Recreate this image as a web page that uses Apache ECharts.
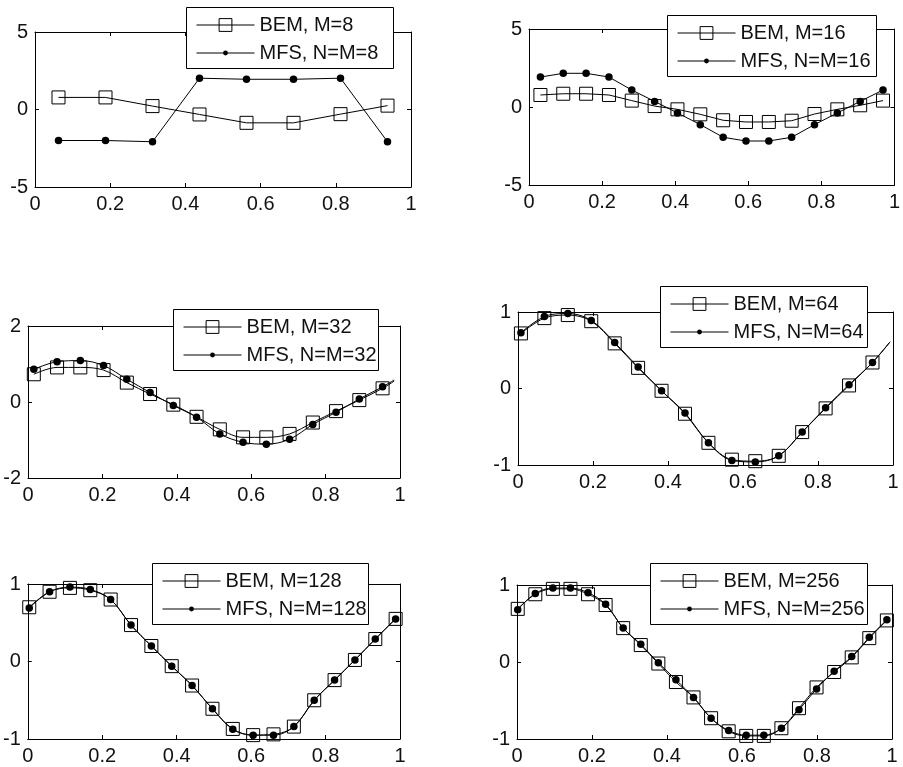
<!DOCTYPE html>
<html><head><meta charset="utf-8">
<script src="https://cdn.jsdelivr.net/npm/echarts@6/dist/echarts.min.js"></script>
<style>html,body{margin:0;padding:0;background:#fff}#c{width:903px;height:767px}</style>
</head><body><div id="c"></div>
<script>
// ---------- data ----------
const xTicks = [0, 0.2, 0.4, 0.6, 0.8, 1];

const p1Ticks = [-5, 0, 5];
const p1X   = [0.0625, 0.1875, 0.3125, 0.4375, 0.5625, 0.6875, 0.8125, 0.9375];
const p1Bem = [0.78, 0.78, 0.22, -0.32, -0.86, -0.86, -0.30, 0.25];
const p1Mfs = [-2.0, -2.0, -2.08, 2.02, 1.95, 1.95, 2.02, -2.08];

const p2Ticks = [-5, 0, 5];
const p2X   = [0.03125, 0.09375, 0.15625, 0.21875, 0.28125, 0.34375, 0.40625, 0.46875,
               0.53125, 0.59375, 0.65625, 0.71875, 0.78125, 0.84375, 0.90625, 0.96875];
const p2Bem = [0.77, 0.85, 0.85, 0.77, 0.41, 0.06, -0.15, -0.47, -0.85, -0.96, -0.96, -0.88, -0.45, -0.15, 0.11, 0.41];
const p2Mfs = [1.92, 2.16, 2.16, 1.92, 1.09, 0.36, -0.38, -1.13, -1.94, -2.18, -2.18, -1.94, -1.13, -0.38, 0.36, 1.09];

const p3Ticks = [-2, 0, 2];
const p3X   = [0.015625, 0.078125, 0.140625, 0.203125, 0.265625, 0.328125, 0.390625, 0.453125,
               0.515625, 0.578125, 0.640625, 0.703125, 0.765625, 0.828125, 0.890625, 0.953125];
const p3Bem = [0.73, 0.91, 0.91, 0.84, 0.51, 0.21, -0.07, -0.39, -0.72, -0.93, -0.93, -0.84, -0.54, -0.24, 0.05, 0.36];
const p3Mfs = [0.86, 1.06, 1.09, 0.96, 0.60, 0.25, -0.09, -0.40, -0.84, -1.06, -1.11, -0.98, -0.59, -0.27, 0.08, 0.40];
const p3TailX = 0.984375, p3BemTail = 0.55, p3MfsTail = 0.58;

const p4Ticks = [-1, 0, 1];
const p4X   = [0.0078125, 0.0703125, 0.1328125, 0.1953125, 0.2578125, 0.3203125, 0.3828125, 0.4453125,
               0.5078125, 0.5703125, 0.6328125, 0.6953125, 0.7578125, 0.8203125, 0.8828125, 0.9453125];
const p4Bem = [0.72, 0.92, 0.96, 0.88, 0.59, 0.27, -0.03, -0.33, -0.71, -0.93, -0.95, -0.88, -0.57, -0.26, 0.04, 0.34];
const p4Mfs = [0.73, 0.94, 0.98, 0.89, 0.60, 0.28, -0.03, -0.32, -0.71, -0.94, -0.96, -0.88, -0.57, -0.25, 0.05, 0.34];
const p4TailX = 0.9921875, p4BemTail = 0.61, p4MfsTail = 0.61;

const p5Ticks = [-1, 0, 1];
const p5X   = [0.00390625, 0.05859375, 0.11328125, 0.16796875, 0.22265625, 0.27734375, 0.33203125,
               0.38671875, 0.44140625, 0.49609375, 0.55078125, 0.60546875, 0.66015625, 0.71484375,
               0.76953125, 0.82421875, 0.87890625, 0.93359375, 0.98828125];
const p5Bem = [0.70, 0.90, 0.95, 0.92, 0.80, 0.47, 0.20, -0.06, -0.31, -0.61, -0.87, -0.95, -0.94, -0.84, -0.50, -0.24, 0.02, 0.29, 0.55];
const p5Mfs = [0.69, 0.90, 0.96, 0.93, 0.80, 0.47, 0.20, -0.06, -0.31, -0.61, -0.875, -0.95, -0.95, -0.84, -0.50, -0.24, 0.02, 0.29, 0.55];

const p6Ticks = [-1, 0, 1];
const p6X   = [0.001953, 0.048828, 0.095703, 0.142578, 0.189453, 0.236328, 0.283203, 0.330078,
               0.376953, 0.423828, 0.470703, 0.517578, 0.564453, 0.611328, 0.658203, 0.705078,
               0.751953, 0.798828, 0.845703, 0.892578, 0.939453, 0.986328];
const p6Bem = [0.69, 0.88, 0.95, 0.95, 0.88, 0.74, 0.44, 0.22, -0.02, -0.26, -0.46, -0.73, -0.90, -0.96, -0.96, -0.86, -0.60, -0.33, -0.13, 0.06, 0.31, 0.54];
const p6Mfs = [0.68, 0.89, 0.96, 0.96, 0.90, 0.75, 0.44, 0.23, -0.01, -0.23, -0.46, -0.73, -0.89, -0.95, -0.95, -0.86, -0.62, -0.35, -0.12, 0.07, 0.32, 0.55];

const names = [
  ['BEM, M=8', 'MFS, N=M=8'],
  ['BEM, M=16', 'MFS, N=M=16'],
  ['BEM, M=32', 'MFS, N=M=32'],
  ['BEM, M=64', 'MFS, N=M=64'],
  ['BEM, M=128', 'MFS, N=M=128'],
  ['BEM, M=256', 'MFS, N=M=256']
];

// ---------- layout (pixels) ----------
const grids = [
  {left: 35, top: 32, width: 376, height: 155},
  {left: 529, top: 29, width: 373, height: 156},
  {left: 28, top: 326, width: 372, height: 152},
  {left: 518, top: 312, width: 375, height: 153},
  {left: 25, top: 584, width: 375, height: 155},
  {left: 517, top: 585, width: 375, height: 154}
];
const legendBoxes = [
  {x: 186, y: 7, w: 207},
  {x: 667, y: 15, w: 209},
  {x: 173, y: 309, w: 205},
  {x: 660, y: 286, w: 207},
  {x: 152, y: 563, w: 216},
  {x: 650, y: 563, w: 217}
];

const FONT = '"Liberation Sans", Arial, Helvetica, sans-serif';
const INK = '#111';

function pairs(xs, ys) { return xs.map((x, i) => [x, ys[i]]); }

const panels = [
  {ticks: p1Ticks, x: p1X, bem: p1Bem, mfs: p1Mfs, smooth: false},
  {ticks: p2Ticks, x: p2X, bem: p2Bem, mfs: p2Mfs, smooth: false},
  {ticks: p3Ticks, x: p3X, bem: p3Bem, mfs: p3Mfs, smooth: 0.35, tail: [p3TailX, p3BemTail, p3MfsTail]},
  {ticks: p4Ticks, x: p4X, bem: p4Bem, mfs: p4Mfs, smooth: 0.35, tail: [p4TailX, p4BemTail, p4MfsTail]},
  {ticks: p5Ticks, x: p5X, bem: p5Bem, mfs: p5Mfs, smooth: 0.35},
  {ticks: p6Ticks, x: p6X, bem: p6Bem, mfs: p6Mfs, smooth: 0.35}
];

const option = {
  backgroundColor: '#fff',
  animation: false,
  grid: [], xAxis: [], yAxis: [], series: [], legend: [], graphic: []
};

const axisLine = {show: true, onZero: false, lineStyle: {color: '#000', width: 1}};
const axisTick = {show: true, inside: true, length: 4, lineStyle: {color: '#000', width: 1}};
const labelStyle = {color: INK, fontSize: 20, fontFamily: FONT};

panels.forEach((p, i) => {
  const g = grids[i];
  option.grid.push({left: g.left, top: g.top, width: g.width, height: g.height, containLabel: false});
  const ymin = p.ticks[0], ymax = p.ticks[p.ticks.length - 1], yint = p.ticks[1] - p.ticks[0];
  const xmin = xTicks[0], xmax = xTicks[xTicks.length - 1], xint = xTicks[1] - xTicks[0];
  option.xAxis.push({gridIndex: i, type: 'value', position: 'bottom', min: xmin, max: xmax, interval: xint,
    axisLine, axisTick, splitLine: {show: false},
    axisLabel: Object.assign({margin: 7, showMinLabel: true, showMaxLabel: true}, labelStyle)});
  option.xAxis.push({gridIndex: i, type: 'value', position: 'top', min: xmin, max: xmax, interval: xint,
    axisLine, axisTick, splitLine: {show: false}, axisLabel: {show: false}});
  option.yAxis.push({gridIndex: i, type: 'value', position: 'left', min: ymin, max: ymax, interval: yint,
    axisLine, axisTick, splitLine: {show: false},
    axisLabel: Object.assign({margin: 7, showMinLabel: true, showMaxLabel: true}, labelStyle)});
  option.yAxis.push({gridIndex: i, type: 'value', position: 'right', min: ymin, max: ymax, interval: yint,
    axisLine, axisTick, splitLine: {show: false}, axisLabel: {show: false}});

  let bemData = pairs(p.x, p.bem);
  let mfsData = pairs(p.x, p.mfs);
  if (p.tail) {
    bemData.push({value: [p.tail[0], p.tail[1]], symbol: 'none'});
    mfsData.push({value: [p.tail[0], p.tail[2]], symbol: 'none'});
  }
  option.series.push({
    name: names[i][0], type: 'line', xAxisIndex: 2 * i, yAxisIndex: 2 * i,
    data: bemData, smooth: p.smooth, symbol: 'rect', symbolSize: 13, showAllSymbol: true,
    lineStyle: {color: '#000', width: 1},
    itemStyle: {color: 'rgba(255,255,255,0)', borderColor: '#000', borderWidth: 1},
    emphasis: {disabled: true}, z: 3
  });
  option.series.push({
    name: names[i][1], type: 'line', xAxisIndex: 2 * i, yAxisIndex: 2 * i,
    data: mfsData, smooth: p.smooth, symbol: 'circle', symbolSize: 7.5, showAllSymbol: true,
    lineStyle: {color: '#000', width: 1},
    itemStyle: {color: '#000', borderWidth: 0},
    emphasis: {disabled: true}, z: 4
  });

  const b = legendBoxes[i];
  option.graphic.push({type: 'rect', z: 50, silent: true,
    shape: {x: b.x + 0.5, y: b.y + 0.5, width: b.w, height: 61},
    style: {fill: '#fff', stroke: '#000', lineWidth: 1}});
  const common = {orient: 'horizontal', padding: 0, itemWidth: 58, selectedMode: false, z: 60,
    textStyle: {color: INK, fontSize: 20, fontFamily: FONT}};
  option.legend.push(Object.assign({}, common, {data: [names[i][0]], left: b.x + 10, top: b.y + 18 - 10,
    itemHeight: 16, itemStyle: {color: 'rgba(255,255,255,0)', borderColor: '#000', borderWidth: 1},
    lineStyle: {color: '#000', width: 1}}));
  option.legend.push(Object.assign({}, common, {data: [names[i][1]], left: b.x + 10, top: b.y + 46 - 10,
    itemHeight: 6, itemStyle: {color: '#000', borderWidth: 0},
    lineStyle: {color: '#000', width: 1}}));
});

const chart = echarts.init(document.getElementById('c'), null, {renderer: 'canvas'});
chart.setOption(option);
</script>
</body></html>
